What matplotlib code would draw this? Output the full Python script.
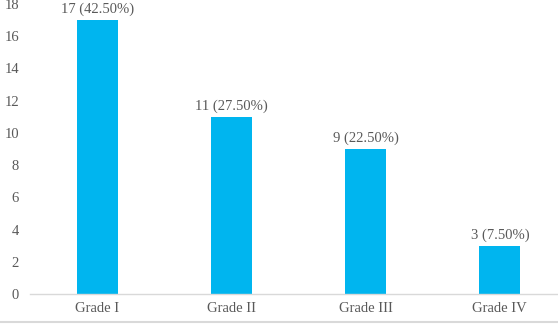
import matplotlib.pyplot as plt
from matplotlib.lines import Line2D

# ── Data ──────────────────────────────────────────────────────────────────────
grades = ["Grade I", "Grade II", "Grade III", "Grade IV"]
counts = [17, 11, 9, 3]
percents = [42.50, 27.50, 22.50, 7.50]
yticks = [0, 2, 4, 6, 8, 10, 12, 14, 16, 18]

plt.rcParams['font.family'] = ['Liberation Serif', 'DejaVu Serif']
text_color = '#595959'

fig = plt.figure(figsize=(5.58, 3.26), dpi=100)
ax = fig.add_axes([30 / 558, 32 / 326, 537 / 558, 290 / 326])

x = range(len(grades))
bars = ax.bar(x, counts, width=0.305, color='#00B5EF', zorder=2)

for bar, c, p in zip(bars, counts, percents):
    ax.text(bar.get_x() + bar.get_width() / 2, c + 0.25,
            f"{c} ({p:.2f}%)", ha='center', va='bottom',
            fontsize=10.5, color=text_color)

ax.set_xlim(-0.5, 3.5)
ax.set_ylim(0, 18)
ax.set_yticks(yticks)
ax.set_xticks(list(x))
ax.set_xticklabels(grades)
ax.tick_params(axis='both', length=0, labelsize=10.5, colors=text_color)
ax.tick_params(axis='x', pad=6)
ax.tick_params(axis='y', pad=8)

for side in ['top', 'right', 'left']:
    ax.spines[side].set_visible(False)
ax.spines['bottom'].set_color('#D9D9D9')
ax.spines['bottom'].set_linewidth(1)

# light border line at the bottom of the image
fig.add_artist(Line2D([0, 1], [4 / 326, 4 / 326], transform=fig.transFigure,
                      color='#D9D9D9', linewidth=1.5))

plt.savefig("out.png", dpi=100)
plt.close()
